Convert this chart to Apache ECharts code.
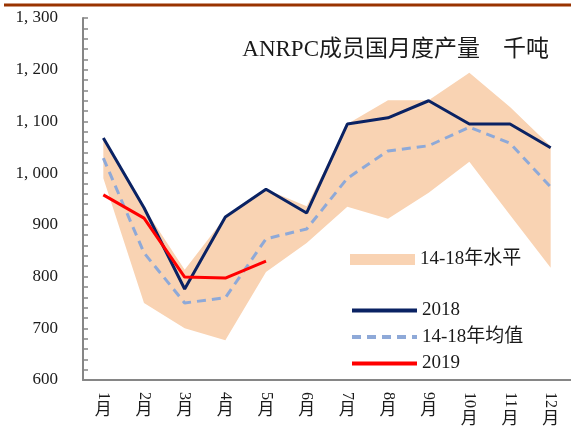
<!DOCTYPE html>
<html>
<head>
<meta charset="utf-8">
<script src="https://cdn.jsdelivr.net/npm/echarts@6/dist/echarts.min.js"></script>
<style>
  html, body { margin: 0; padding: 0; background: #fff; }
  #main { width: 571px; height: 434px; }
</style>
</head>
<body>
<div id="main"></div>
<script>
    // 数据
    var months = ['1', '2', '3', '4', '5', '6', '7', '8', '9', '10', '11', '12'];
    var yTicks = [600, 700, 800, 900, 1000, 1100, 1200, 1300];
    var bandMax = [1068, 933, 813, 915, 969, 936, 1095, 1141, 1141, 1194, 1128, 1052];
    var bandMin = [990, 749, 700, 677, 809, 865, 935, 912, 962, 1022, 919, 817];
    var avg1418 = [1029, 846, 749, 759, 873, 892, 990, 1043, 1053, 1089, 1058, 973];
    var y2018 = [1068, 933, 776, 915, 969, 923, 1095, 1107, 1140, 1095, 1095, 1049];
    var y2019 = [958, 913, 799, 797, 830];

    var bandDiff = bandMax.map(function (v, i) { return v - bandMin[i]; });

    var serif = '"Liberation Serif", "Noto Sans CJK SC", serif';
    var textColor = '#1a1a1a';
    var axisColor = '#868686';

    var option = {
        animation: false,
        graphic: [{
            type: 'line',
            shape: {x1: 4, y1: 5, x2: 571, y2: 5},
            style: {stroke: '#993300', lineWidth: 3}
        }],
        title: {
            text: 'ANRPC成员国月度产量    千吨',
            right: 17,
            top: 33,
            textStyle: {fontFamily: serif, fontSize: 23, fontWeight: 'normal', color: textColor}
        },
        legend: [{
            data: [{name: '14-18年水平', icon: 'rect'}],
            left: 345,
            top: 245,
            itemWidth: 65,
            itemHeight: 11,
            textStyle: {fontFamily: serif, fontSize: 19, color: textColor}
        }, {
            data: ['2018', '14-18年均值', '2019'],
            orient: 'vertical',
            left: 345,
            top: 296,
            itemWidth: 65,
            itemHeight: 18,
            itemGap: 7.5,
            itemStyle: {opacity: 0},
            lineStyle: {width: 4},
            textStyle: {fontFamily: serif, fontSize: 19, color: textColor}
        }],
        grid: {left: 83, top: 18, width: 493, bottom: 54},
        xAxis: [{
            type: 'category',
            data: months,
            boundaryGap: true,
            axisLine: {lineStyle: {color: axisColor, width: 2}},
            axisTick: {inside: true, length: 4, lineStyle: {color: axisColor, width: 1.5}},
            axisLabel: {
                rotate: -90,
                margin: 12,
                interval: 0,
                fontFamily: serif,
                fontSize: 16,
                color: textColor
            }
        }, {
            type: 'category',
            data: months,
            position: 'bottom',
            boundaryGap: true,
            axisLine: {show: false},
            axisTick: {inside: true, alignWithLabel: true, length: 4, lineStyle: {color: axisColor, width: 1.5}},
            axisLabel: {
                margin: 22,
                interval: 0,
                formatter: function (v) { return v.length > 1 ? '{b|月}' : '{a|月}'; },
                rich: {
                    a: {fontFamily: serif, fontSize: 17, color: textColor},
                    b: {fontFamily: serif, fontSize: 17, color: textColor, padding: [9, 0, 0, 0]}
                }
            }
        }],
        yAxis: {
            type: 'value',
            min: yTicks[0],
            max: yTicks[yTicks.length - 1],
            interval: 100,
            splitLine: {show: false},
            axisLine: {show: true, lineStyle: {color: axisColor, width: 2}},
            axisTick: {show: true, inside: true, length: 5, lineStyle: {color: axisColor, width: 1.5}},
            minorTick: {show: true, splitNumber: 5, length: 5, lineStyle: {color: axisColor, width: 1.5}},
            axisLabel: {
                margin: 25,
                fontFamily: serif,
                fontSize: 17,
                color: textColor,
                formatter: function (v) {
                    return v >= 1000 ? Math.floor(v / 1000) + ', ' + String(v % 1000).padStart(3, '0') : String(v);
                }
            }
        },
        series: [{
            name: 'bandLow',
            type: 'line',
            stack: 'band',
            data: bandMin,
            symbol: 'none',
            lineStyle: {opacity: 0},
            silent: true
        }, {
            name: '14-18年水平',
            type: 'line',
            stack: 'band',
            data: bandDiff,
            symbol: 'none',
            itemStyle: {color: '#F9D3B3'},
            lineStyle: {opacity: 0},
            areaStyle: {color: '#F9D3B3', opacity: 1},
            silent: true
        }, {
            name: '14-18年均值',
            type: 'line',
            data: avg1418,
            symbol: 'none',
            itemStyle: {color: '#8EA9D8'},
            lineStyle: {color: '#8EA9D8', width: 3, type: [9, 6]}
        }, {
            name: '2018',
            type: 'line',
            data: y2018,
            symbol: 'none',
            itemStyle: {color: '#0A2263'},
            lineStyle: {color: '#0A2263', width: 3}
        }, {
            name: '2019',
            type: 'line',
            data: y2019,
            symbol: 'none',
            itemStyle: {color: '#FF0000'},
            lineStyle: {color: '#FF0000', width: 3}
        }]
    };

    var myChart = echarts.init(document.getElementById('main'));
    myChart.setOption(option);
</script>
</body>
</html>
